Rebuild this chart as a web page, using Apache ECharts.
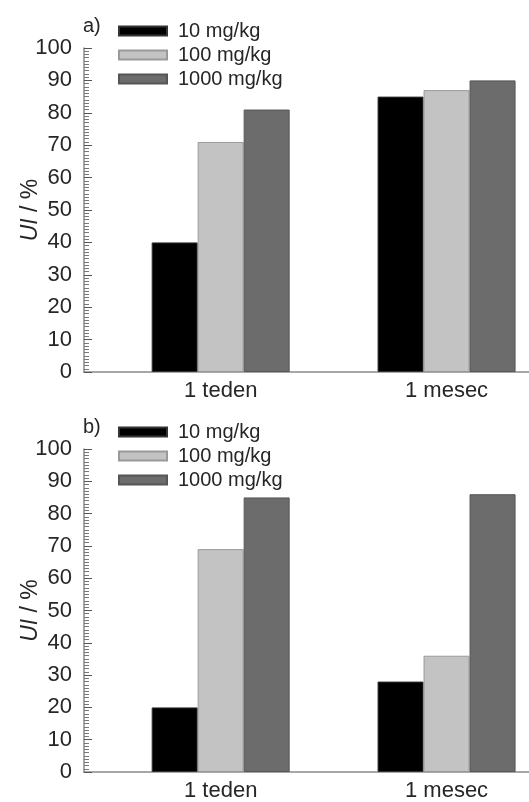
<!DOCTYPE html>
<html>
<head>
<meta charset="utf-8">
<script src="https://cdn.jsdelivr.net/npm/echarts@6/dist/echarts.min.js"></script>
<style>
  html, body { margin: 0; padding: 0; background: #fff; }
  #main { width: 529px; height: 802px; }
</style>
</head>
<body>
<div id="main"></div>
<script>
var categories = ['1 teden', '1 mesec'];
var doses = ['10 mg/kg', '100 mg/kg', '1000 mg/kg'];
// panel a)
var panelA = [
    [40, 85],
    [71, 87],
    [81, 90]
];
// panel b)
var panelB = [
    [20, 28],
    [69, 36],
    [85, 86]
];
var yTicks = [0, 10, 20, 30, 40, 50, 60, 70, 80, 90, 100];

var colors = ['#000000', '#c3c3c3', '#6c6c6c'];
var borders = ['#333333', '#9a9a9a', '#555555'];
var textColor = '#262626';
var font = 'Liberation Sans, Arial, sans-serif';

// category i sits at i + offset on the value x axis
var catOffset = 0.605;
function catPos(i) { return i + catOffset; }

showChart();

function showChart() {
    var myChart = echarts.init(document.getElementById('main'));

    var tops = [48, 449];
    var heights = [324, 323];
    var panels = [panelA, panelB];
    var grids = [], xAxes = [], yAxes = [], series = [], legends = [], titles = [];

    for (var p = 0; p < 2; p++) {
        grids.push({ left: 84, right: 0, top: tops[p], height: heights[p], outerBoundsMode: 'none' });
        xAxes.push({
            gridIndex: p,
            type: 'value',
            min: 0,
            max: 1.97,
            splitLine: { show: false },
            axisTick: { show: false },
            axisLine: { lineStyle: { color: '#8a8a8a', width: 1.5 } },
            axisLabel: {
                customValues: categories.map(function (c, i) { return catPos(i); }),
                formatter: function (v) {
                    return categories[Math.round(v - catOffset)];
                },
                fontSize: 22,
                fontFamily: font,
                color: textColor,
                margin: 8
            }
        });
        yAxes.push({
            gridIndex: p,
            type: 'value',
            min: yTicks[0],
            max: yTicks[yTicks.length - 1],
            interval: 10,
            name: '{i|UI} / %',
            nameLocation: 'middle',
            nameGap: 42,
            nameMoveOverlap: false,
            nameTextStyle: {
                fontSize: 23,
                fontFamily: font,
                color: textColor,
                rich: { i: { fontStyle: 'italic', fontSize: 23, fontFamily: font, color: textColor } }
            },
            splitLine: { show: false },
            axisLine: { show: true, onZero: false, lineStyle: { color: '#8a8a8a', width: 1.5 } },
            axisTick: { inside: true, length: 8, lineStyle: { color: '#555' } },
            minorTick: { show: true, splitNumber: 10, length: 5, lineStyle: { color: '#777' } },
            axisLabel: { fontSize: 22, fontFamily: font, color: textColor, margin: 12 }
        });
        for (var s = 0; s < doses.length; s++) {
            series.push({
                name: doses[s],
                type: 'bar',
                xAxisIndex: p,
                yAxisIndex: p,
                barWidth: 46,
                barGap: '0%',
                itemStyle: { color: colors[s], borderColor: borders[s], borderWidth: 1 },
                data: panels[p][s].map(function (v, i) { return [catPos(i), v]; })
            });
        }
        legends.push({
            data: doses,
            orient: 'vertical',
            icon: 'rect',
            left: 113,
            top: tops[p] - 32,
            itemWidth: 48,
            itemHeight: 9,
            itemGap: 4,
            selectedMode: false,
            textStyle: { fontSize: 20, fontFamily: font, color: textColor, padding: [0, 0, 0, 6] }
        });
        titles.push({
            text: p === 0 ? 'a)' : 'b)',
            left: 78,
            top: tops[p] - 37,
            textStyle: { fontSize: 20, fontWeight: 'normal', fontFamily: font, color: textColor }
        });
    }

    var option = {
        animation: false,
        backgroundColor: '#fff',
        title: titles,
        legend: legends,
        grid: grids,
        xAxis: xAxes,
        yAxis: yAxes,
        series: series
    };
    myChart.setOption(option);
}
</script>
</body>
</html>
